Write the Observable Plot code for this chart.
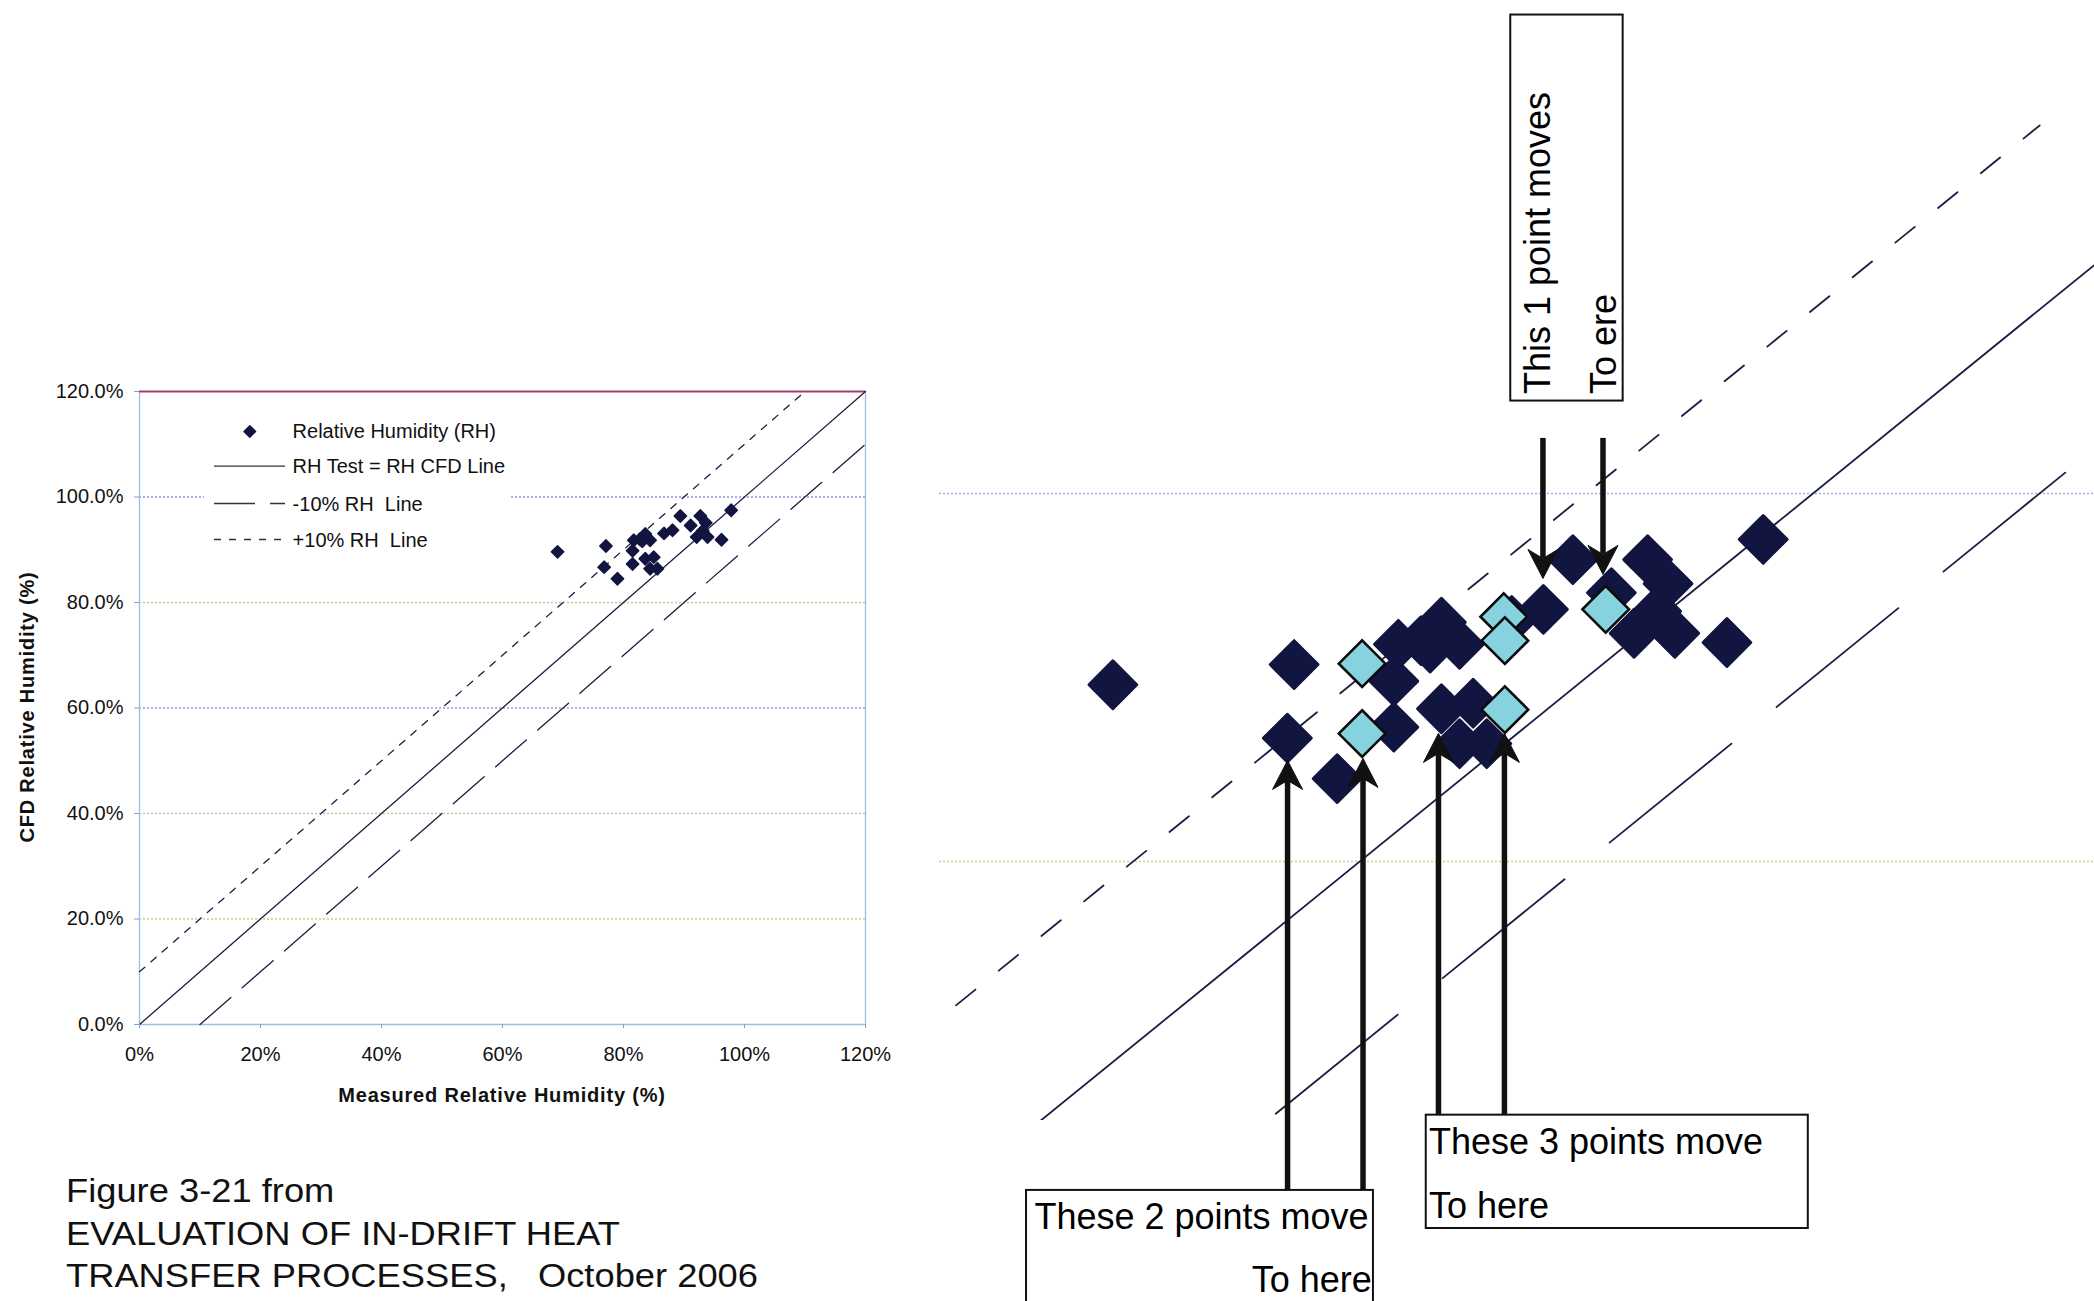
<!DOCTYPE html>
<html><head><meta charset="utf-8">
<script src="https://cdn.jsdelivr.net/npm/d3@7"></script>
<script src="https://cdn.jsdelivr.net/npm/@observablehq/plot@0.6"></script>
<style>
html,body{margin:0;padding:0;background:#fff;}
body{width:2094px;height:1301px;position:relative;overflow:hidden;font-family:"Liberation Sans",Arial,Helvetica,sans-serif;color:#111;}
.abs{position:absolute;}
.ttl{position:absolute;font-weight:bold;font-size:20px;letter-spacing:0.8px;white-space:nowrap;transform:translate(-50%,-50%);}
#caption{position:absolute;left:66px;top:1170px;font-size:33px;line-height:42.5px;white-space:pre;color:#111;transform:scaleX(1.1);transform-origin:0 0;}
</style></head><body>
<div id="left" class="abs" style="left:0;top:360px"></div>
<div id="right" class="abs" style="left:939px;top:0"></div>
<div class="ttl" style="left:27px;top:707px;transform:translate(-50%,-50%) rotate(-90deg)">CFD Relative Humidity (%)</div>
<div class="ttl" style="left:502px;top:1095px">Measured Relative Humidity (%)</div>
<div id="caption">Figure 3-21 from
EVALUATION OF IN-DRIFT HEAT
TRANSFER PROCESSES,   October 2006</div>
<script>
// ---------------- data ----------------
const measuredRH = [69.1, 77.1, 76.8, 79.0, 81.7, 82.7, 83.6, 84.4, 81.5, 81.5, 83.6, 85.0, 84.4, 85.6, 88.1, 89.4, 91.1, 92.7, 93.6, 93.1, 92.1, 93.9, 96.2, 97.8, 86.7, 83.1];
const cfdRH      = [89.6, 90.7, 86.7, 84.5, 91.8, 92.0, 93.0, 91.8, 89.8, 87.3, 88.3, 88.6, 86.4, 86.4, 93.7, 96.4, 94.6, 96.4, 95.1, 93.6, 92.4, 92.4, 91.9, 97.5, 93.1, 91.6];
const movedMeasuredRH = [80.1, 80.1, 86.35, 86.4, 86.4, 90.85];
const movedCfdRH      = [90.75, 86.95, 93.3, 92.0, 88.25, 93.7];

const xTicks = [0, 20, 40, 60, 80, 100, 120];
const yTicks = [0, 20, 40, 60, 80, 100, 120];
const gridValues = [20, 40, 60, 80, 100];
const gridColors = ["#e2c27e", "#c9c3a0", "#9d98e6", "#c8c89c", "#8f94e8"];

const legendLabels = ["Relative Humidity (RH)", "RH Test = RH CFD Line", "-10% RH\u00a0 Line", "+10% RH\u00a0 Line"];
const refLineOffset = [0, -10, 10];
const refLineFrom = [0, 10, 0];
const refLineTo = [120, 121, 110];

// zoomed view window (measured %, CFD %)
const zoomX = [61.45, 112.42];
const zoomY = [65.92, 126.79];
const zoomGrid = [100, 80];
const zoomGridColors = ["#9fb0e8", "#d6c88e"];

// annotations (in zoomed-view data units)
const noteText = ["This 1 point moves", "To ere", "These 2 points move", "To here", "These 3 points move", "To here"];
const noteU = [88.39, 91.32, 65.64, 80.53, 83.05, 83.05];
const noteV = [105.40, 105.40, 60.05, 56.58, 64.08, 60.60];
const noteRotate = [-90, -90, 0, 0, 0, 0];
const noteAnchor = ["start", "start", "start", "end", "start", "start"];
const boxU1 = [86.66, 65.29, 82.93], boxU2 = [91.62, 80.60, 99.79];
const boxV1 = [126.0, 62.12, 66.21], boxV2 = [105.02, 55.5, 60.05];
const arrowU = [88.08, 90.73, 76.81, 80.14, 83.47, 86.38];
const arrowFromV = [102.99, 102.99, 62.12, 62.12, 66.21, 66.21];
const arrowTipV = [95.38, 95.60, 85.49, 85.60, 86.96, 86.96];

// ---------------- build tables ----------------
const points = measuredRH.map((m, i) => ({m, c: cfdRH[i]}));
const moved = movedMeasuredRH.map((m, i) => ({m, c: movedCfdRH[i]}));
const refRows = refLineOffset.flatMap((off, i) => [
  {line: i, x: refLineFrom[i], y: refLineFrom[i] + off},
  {line: i, x: refLineTo[i], y: refLineTo[i] + off}
]);
const grid = gridValues.map((v, i) => ({v, color: gridColors[i]}));
const zgrid = zoomGrid.map((v, i) => ({v, color: zoomGridColors[i]}));
const FONT = "'Liberation Sans', Arial, Helvetica, sans-serif";
const lineColor = "#1b1e44";
const navy = "#12153f";

// ---------------- left chart ----------------
const leftDash = [null, "41,15", "7,8"];
const L = Plot.plot({
  width: 900, height: 760,
  marginLeft: 139, marginRight: 35, marginTop: 31, marginBottom: 96,
  x: {domain: [0, 120]}, y: {domain: [0, 120]},
  style: {fontFamily: FONT, fontSize: "20px", color: "#111", background: "transparent", overflow: "visible"},
  marks: [
    Plot.ruleY(grid, {y: "v", stroke: "color", strokeWidth: 1.4, strokeDasharray: "2,2"}),
    Plot.ruleX([0, 120], {stroke: "#9cbde4", strokeWidth: 1.3}),
    Plot.ruleY([0], {stroke: "#9cbde4", strokeWidth: 1.5}),
    Plot.ruleY([120], {stroke: "#a23e6c", strokeWidth: 2.2}),
    ...[0, 1, 2].map(i => Plot.line(refRows.filter(d => d.line === i), {
      x: "x", y: "y", stroke: lineColor, strokeWidth: 1.3, strokeDasharray: leftDash[i]
    })),
    Plot.axisY({ticks: yTicks, tickFormat: d => d.toFixed(1) + "%", tickSize: 5, tickPadding: 11, label: null, stroke: "#7d9fd6"}),
    Plot.axisX({ticks: xTicks, tickFormat: d => d + "%", tickSize: 4, tickPadding: 18, label: null, stroke: "#7d9fd6"}),
    Plot.dot(points, {x: "m", y: "c", symbol: "diamond2", r: 5.6, fill: navy, stroke: navy, strokeWidth: 1.4, strokeLinejoin: "round"})
  ]
});
document.getElementById("left").append(L);

// legend
const lg = d3.select("body").append("svg").attr("class", "abs")
  .style("left", "204px").style("top", "405px").attr("width", 307).attr("height", 153)
  .style("font-family", FONT).style("font-size", "20px");
lg.append("rect").attr("width", 307).attr("height", 153).attr("fill", "#fff");
const rowY = [26.4, 61.1, 98.5, 134.5];
lg.append("path").attr("d", d3.symbol(d3.symbolDiamond2, 85)())
  .attr("transform", `translate(45.8,${rowY[0]})`).attr("fill", navy).attr("stroke", navy)
  .attr("stroke-width", 1.4).attr("stroke-linejoin", "round");
[1, 2, 3].forEach(k => {
  lg.append("line").attr("x1", 10).attr("x2", 81).attr("y1", rowY[k]).attr("y2", rowY[k])
    .attr("stroke", "#333").attr("stroke-width", 1.3)
    .attr("stroke-dasharray", leftDash[k - 1]);
});
legendLabels.forEach((t, k) => {
  lg.append("text").attr("x", 88.6).attr("y", rowY[k] + 7).attr("fill", "#111").text(t);
});

// ---------------- right (zoomed) chart ----------------
const rightDash = [null, "157,58", "25,30"];
const plotH = 1120;
const ky = plotH / (zoomY[1] - zoomY[0]);
const arrows = arrowU.map((u, i) => {
  const up = arrowTipV[i] > arrowFromV[i];
  return {u, from: arrowFromV[i], tip: arrowTipV[i], shaftEnd: arrowTipV[i] + (up ? -20 : 20) / ky, rot: up ? 0 : 180};
});
const notes = noteText.map((t, i) => ({t, u: noteU[i], v: noteV[i], rot: noteRotate[i], anchor: noteAnchor[i]}));
const boxes = boxU1.map((u, i) => ({u1: u, u2: boxU2[i], v1: boxV1[i], v2: boxV2[i]}));
const stealth = {draw(ctx) { ctx.moveTo(0, 0); ctx.lineTo(15, 29); ctx.lineTo(0, 20); ctx.lineTo(-15, 29); ctx.closePath(); }};

const R = Plot.plot({
  width: 1155, height: 1301,
  marginLeft: 0, marginRight: 0, marginTop: 0, marginBottom: 1301 - plotH,
  x: {domain: zoomX}, y: {domain: zoomY},
  axis: null,
  style: {fontFamily: FONT, color: "#111", background: "transparent", overflow: "visible"},
  marks: [
    Plot.ruleY(zgrid, {y: "v", stroke: "color", strokeWidth: 1.6, strokeDasharray: "2,2"}),
    ...[0, 1, 2].map(i => Plot.line(refRows.filter(d => d.line === i), {
      x: "x", y: "y", stroke: lineColor, strokeWidth: 1.8, strokeDasharray: rightDash[i], clip: true
    })),
    Plot.dot(points, {x: "m", y: "c", symbol: "diamond2", r: 21.5, fill: navy, stroke: navy, strokeWidth: 3, strokeLinejoin: "round"}),
    Plot.dot(moved, {x: "m", y: "c", symbol: "diamond2", r: 21, fill: "#86d3df", stroke: "#0c0c0c", strokeWidth: 2.6}),
    Plot.rect(boxes, {x1: "u1", x2: "u2", y1: "v1", y2: "v2", fill: "#fff", stroke: "#111", strokeWidth: 2}),
    Plot.text(notes.filter(d => d.anchor === "start"), {x: "u", y: "v", text: "t", rotate: "rot", textAnchor: "start", lineAnchor: "bottom", fontSize: 36, fill: "#000"}),
    Plot.text(notes.filter(d => d.anchor === "end"), {x: "u", y: "v", text: "t", rotate: "rot", textAnchor: "end", lineAnchor: "bottom", fontSize: 36, fill: "#000"}),
    Plot.ruleX(arrows, {x: "u", y1: "from", y2: "shaftEnd", stroke: "#111", strokeWidth: 5.5}),
    Plot.dot(arrows, {x: "u", y: "tip", symbol: stealth, rotate: "rot", fill: "#111", stroke: "#111", strokeWidth: 1})
  ]
});
document.getElementById("right").append(R);
</script>
</body></html>
